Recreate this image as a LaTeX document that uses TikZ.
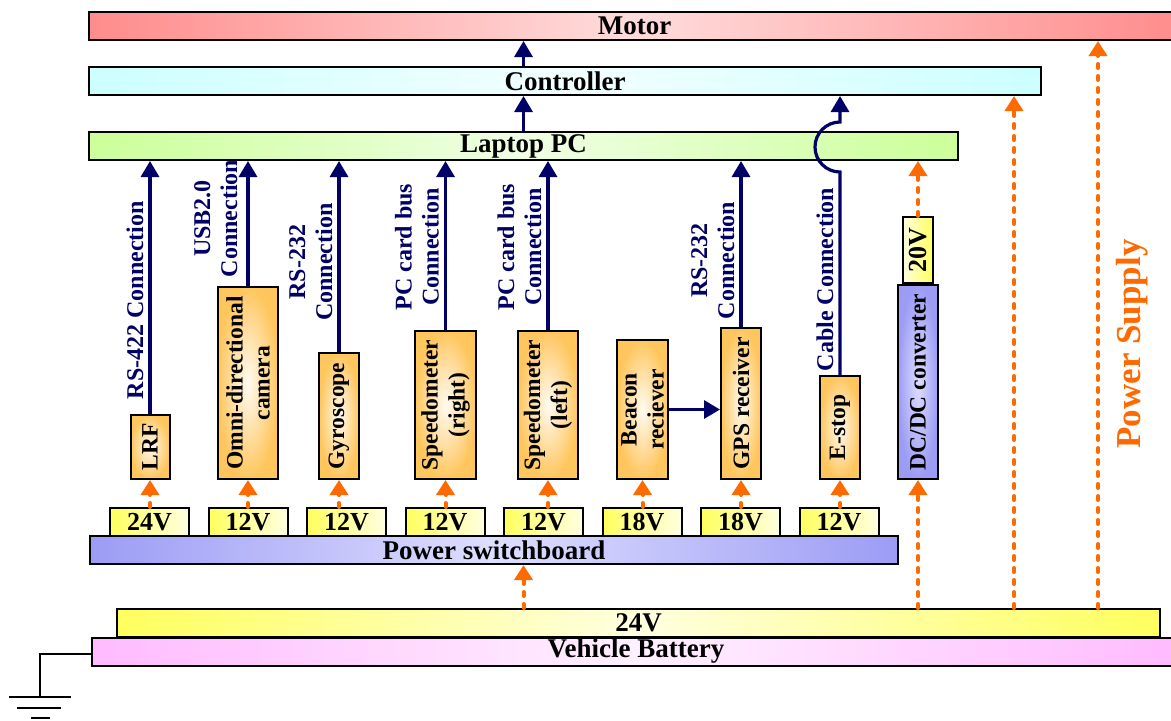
\documentclass[tikz,border=0pt]{standalone}
\usepackage{fontspec}
\setmainfont{Liberation Serif}
\usetikzlibrary{positioning,arrows.meta,calc}
\definecolor{navy}{HTML}{000066}
\definecolor{pwrorange}{HTML}{FF6A00}
\definecolor{devdark}{HTML}{FFC65E}
\definecolor{devlight}{HTML}{FFFBF2}
\definecolor{yel}{HTML}{FFFF5E}
\definecolor{yellight}{HTML}{FFFFE0}
\definecolor{motordark}{HTML}{FF8C8C}
\definecolor{motorlight}{HTML}{FFDCDC}
\definecolor{ctrldark}{HTML}{CCFFFF}
\definecolor{ctrllight}{HTML}{F2FFFF}
\definecolor{pcdark}{HTML}{CCFF99}
\definecolor{pclight}{HTML}{F0FFE4}
\definecolor{swdark}{HTML}{9C9CF5}
\definecolor{swlight}{HTML}{DEDEFF}
\definecolor{batdark}{HTML}{FFBBFF}
\definecolor{batlight}{HTML}{FFF0FF}

\tikzset{
  bar/.style={draw, line width=1pt, minimum height=14pt, inner sep=0pt,
    font=\fontsize{13.5}{15}\selectfont\bfseries},
  dev/.style={draw, line width=1pt, rotate=90, anchor=west, inner sep=0pt,
    align=center, inner color=devlight, outer color=devdark,
    font=\fontsize{11.75}{13.5}\selectfont\bfseries},
  volt/.style={draw, line width=1pt, minimum width=39.5pt, minimum height=14pt,
    inner sep=0pt, left color=yel, right color=yellight,
    font=\fontsize{13}{14}\selectfont\bfseries},
  conn/.style={navy, line width=1.6pt, -{Triangle[width=9pt,length=8pt]}},
  pwr/.style={pwrorange, line width=2pt, dash pattern=on 2pt off 4pt,
    line cap=round, -{Triangle[width=9pt,length=7.5pt]}},
  lbl/.style={above, sloped, inner sep=2.5pt, text=navy, align=center,
    font=\fontsize{12}{13.5}\selectfont\bfseries},
}

\begin{document}
\begin{tikzpicture}[x=0.5pt,y=-0.5pt]
\useasboundingbox (0,0) rectangle (1171,720);
% Bars
\node[bar, minimum width=545.5pt, left color=motordark, right color=motordark, middle color=motorlight] (motor) at (634.5,26) {Motor};
\node[bar, minimum width=476pt, left color=ctrldark, right color=ctrldark, middle color=ctrllight] (ctrl) at (565,81) {Controller};
\node[bar, minimum width=434.5pt, left color=pcdark, right color=pcdark, middle color=pclight] (laptop) at (523.5,146) {Laptop PC};
\node[bar, minimum width=404pt, left color=swdark, right color=swdark, middle color=swlight] (psw) at (494,550) {Power switchboard};
\node[bar, minimum width=544pt, left color=batdark, right color=batdark, middle color=batlight] (battery) at (636,651.5) {Vehicle Battery};
\node[bar, minimum width=521.5pt, left color=yel, right color=yel, middle color=yellight] (v24bar) at (638.5,623) {24V};

% Devices
\node[dev, minimum width=32pt, minimum height=19.5pt] (lrf) at (150,480) {LRF};
\node[dev, minimum width=96pt, minimum height=30pt] (omni) at (248,480) {Omni-directional\\camera};
\node[dev, minimum width=63pt, minimum height=20pt] (gyro) at (339,480) {Gyroscope};
\node[dev, minimum width=74pt, minimum height=30.5pt] (spdr) at (445.5,480) {Speedometer\\(right)};
\node[dev, minimum width=74pt, minimum height=30pt] (spdl) at (548,480) {Speedometer\\(left)};
\node[dev, minimum width=69.5pt, minimum height=25.5pt] (beacon) at (642.5,480) {Beacon\\reciever};
\node[dev, minimum width=75.5pt, minimum height=20pt] (gps) at (741,480) {GPS receiver};
\node[dev, minimum width=51.5pt, minimum height=20pt] (estop) at (840,480) {E-stop};
\node[dev, minimum width=97pt, minimum height=20pt, inner color=swlight, outer color=swdark] (dcdc) at (918,480) {DC/DC converter};
\node[dev, minimum width=33pt, minimum height=15pt, left color=yellight, right color=yel, font=\fontsize{13}{14}\selectfont\bfseries] (v20) at (dcdc.east) {20V};

% Switchboard outputs
\node[volt] (v1) at (149.5,522) {24V};
\node[volt] (v2) at (248,522) {12V};
\node[volt] (v3) at (346.5,522) {12V};
\node[volt] (v4) at (445,522) {12V};
\node[volt] (v5) at (543.5,522) {12V};
\node[volt] (v6) at (642,522) {18V};
\node[volt] (v7) at (740.5,522) {18V};
\node[volt] (v8) at (839,522) {12V};

% Data links
\draw[conn] (laptop.north) -- (laptop.north |- ctrl.south);
\draw[conn] (laptop.north |- ctrl.north) -- (laptop.north |- motor.south);
\draw[conn] (lrf.east) -- node[lbl, pos=0.45] {RS-422 Connection} (lrf.east |- laptop.south);
\draw[conn] (omni.east) -- node[lbl, pos=0.54, inner sep=4.5pt] {USB2.0\\Connection} (omni.east |- laptop.south);
\draw[conn] (gyro.east) -- node[lbl, pos=0.47] {RS-232\\Connection} (gyro.east |- laptop.south);
\draw[conn] (spdr.east) -- node[lbl, pos=0.49] {PC card bus\\Connection} (spdr.east |- laptop.south);
\draw[conn] (spdl.east) -- node[lbl, pos=0.49] {PC card bus\\Connection} (spdl.east |- laptop.south);
\draw[conn] (gps.east) -- node[lbl, pos=0.4] {RS-232\\Connection} (gps.east |- laptop.south);
\draw[conn] (beacon.south) -- (beacon.south -| gps.north);
\draw[conn] (estop.east) -- node[lbl, pos=0.47] {Cable Connection} ++(0,-203)
  arc[start angle=270, end angle=90, radius=12.5pt] -- (estop.east |- ctrl.south);

% Power feeds
\draw[pwr] (v1.north -| lrf.west) -- (lrf.west);
\draw[pwr] (v2.north -| omni.west) -- (omni.west);
\draw[pwr] (v3.north -| gyro.west) -- (gyro.west);
\draw[pwr] (v4.north -| spdr.west) -- (spdr.west);
\draw[pwr] (v5.north -| spdl.west) -- (spdl.west);
\draw[pwr] (v6.north -| beacon.west) -- (beacon.west);
\draw[pwr] (v7.north -| gps.west) -- (gps.west);
\draw[pwr] (v8.north -| estop.west) -- (estop.west);
\draw[pwr] (v24bar.north -| laptop.south) -- (psw.south -| laptop.south);
\draw[pwr] (v24bar.north -| dcdc.west) -- (dcdc.west);
\draw[pwr] (v20.east) -- (v20.east |- laptop.south);
\coordinate (ctrlfeed) at ([xshift=-73.5pt]v24bar.north east);
\coordinate (motorfeed) at ([xshift=-31.5pt]v24bar.north east);
\draw[pwr] (ctrlfeed) -- (ctrlfeed |- ctrl.south);
\draw[pwr] (motorfeed) -- (motorfeed |- motor.south);
\node[rotate=90, text=pwrorange, font=\fontsize{17.5}{20}\selectfont\bfseries] (pwrtitle) at (1132,344) {Power Supply};

% Ground
\coordinate (gnd) at (40,697);
\draw[line width=1.3pt] (battery.west |- 0,654) -| (gnd);
\draw[line width=1.3pt] (9,697) -- (71,697) (17,708) -- (61,708) (31,718) -- (50,718);
\end{tikzpicture}
\end{document}
